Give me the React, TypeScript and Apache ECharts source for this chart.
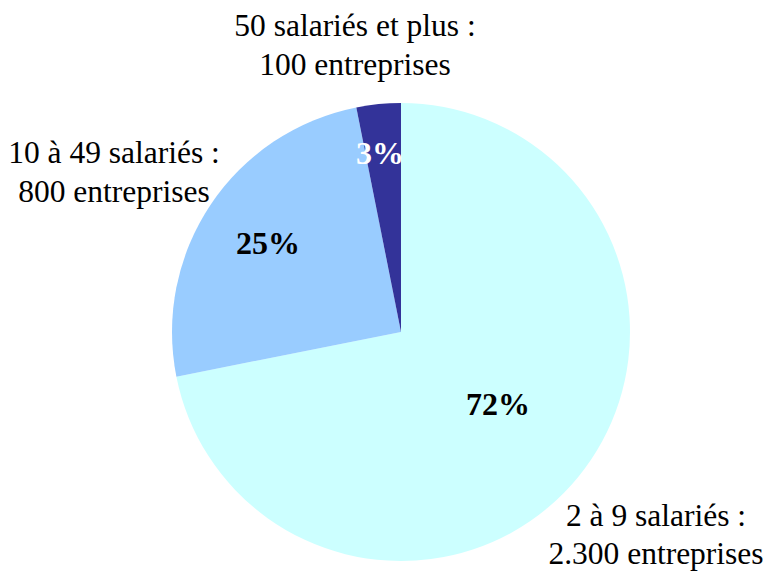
import React, { useEffect, useRef } from "react";
import * as echarts from "echarts";

const categories = ["2 à 9 salariés", "10 à 49 salariés", "50 salariés et plus"];
const companies = [2300, 800, 100];
const outsideLabels = [
  ["2 à 9 salariés :", "2.300 entreprises"],
  ["10 à 49 salariés :", "800 entreprises"],
  ["50 salariés et plus :", "100 entreprises"],
];
const sliceColors = ["#CCFFFF", "#99CCFF", "#333399"];
const pctColors = ["#000000", "#000000", "#FFFFFF"];

// label anchor positions (layout only): x centre, y centre of first line
const pctPos: [number, number][] = [
  [498, 404],
  [268, 243],
  [380, 153],
];
const outPos: [number, number][] = [
  [656, 515],
  [114, 152.5],
  [355, 25.5],
];
const lineGaps = [38, 39, 39];

const FONT = "Liberation Serif";

export default function App() {
  const ref = useRef<HTMLDivElement>(null);
  useEffect(() => {
    if (!ref.current) return;
    const chart = echarts.init(ref.current, undefined, { renderer: "svg" });
    const graphic: any[] = [];
    outsideLabels.forEach((lines, i) => {
      lines.forEach((line, j) => {
        graphic.push({
          type: "text",
          x: outPos[i][0],
          y: outPos[i][1] + j * lineGaps[i],
          style: {
            text: line,
            fill: "#000",
            fontSize: 31.5,
            fontFamily: FONT,
            align: "center",
            verticalAlign: "middle",
            lineHeight: 30,
          },
        });
      });
    });
    chart.setOption({
      animation: false,
      backgroundColor: "#ffffff",
      series: [
        {
          type: "pie",
          center: [401, 332],
          radius: [0, 229],
          startAngle: 90,
          clockwise: true,
          percentPrecision: 0,
          itemStyle: { borderWidth: 0 },
          emphasis: { disabled: true },
          data: categories.map((name, i) => ({
            name,
            value: companies[i],
            itemStyle: { color: sliceColors[i] },
            label: { color: pctColors[i] },
          })),
          label: {
            show: true,
            position: "inside",
            formatter: "{d}%",
            fontFamily: FONT,
            fontSize: 32,
            fontWeight: "bold",
          },
          labelLine: { show: false },
          labelLayout: (p: any) => ({
            x: pctPos[p.dataIndex][0],
            y: pctPos[p.dataIndex][1],
            align: "center",
            verticalAlign: "middle",
          }),
        },
      ],
      graphic,
    });
    return () => chart.dispose();
  }, []);
  return (
    <div
      ref={ref}
      style={{ position: "absolute", left: 0, top: 0, width: 768, height: 571 }}
    />
  );
}
